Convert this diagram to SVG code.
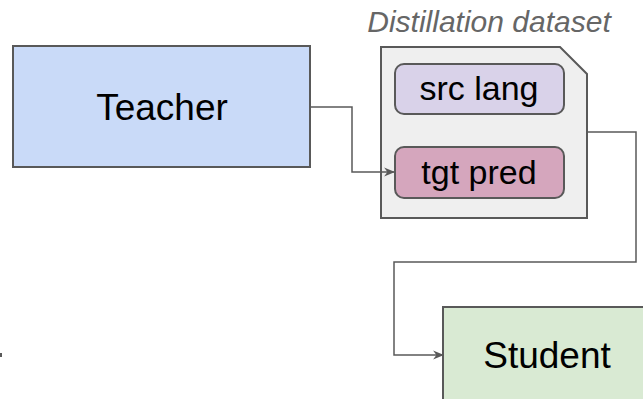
<svg xmlns="http://www.w3.org/2000/svg" width="643" height="399" viewBox="0 0 643 399">
<style>
.box{stroke:#595959;stroke-width:2}
.lbl{font-family:"Liberation Sans",Arial,sans-serif;fill:#000;text-anchor:middle}
.con{fill:none;stroke:#595959;stroke-width:1.5}
</style>
<defs>
<marker id="arr" viewBox="0 0 10 10" refX="9" refY="5" markerWidth="11" markerHeight="11" markerUnits="userSpaceOnUse" orient="auto">
<path d="M0,1 L10,5 L0,9 L3,5 Z" fill="#595959"/>
</marker>
</defs>
<rect width="643" height="399" fill="#fff"/>
<g id="teacher">
<rect class="box" x="13" y="46" width="297" height="121" fill="#c9daf8"/>
<text class="lbl" x="162" y="120" font-size="37">Teacher</text>
</g>
<g id="dataset">
<text x="489" y="32" font-family="'Liberation Sans',Arial,sans-serif" font-size="30" font-style="italic" fill="#666666" text-anchor="middle">Distillation dataset</text>
<path class="box" d="M381,47 H560 L587,74 V218 H381 Z" fill="#efefef"/>
</g>
<g id="src">
<rect class="box" x="395" y="64" width="169" height="50" rx="9" fill="#d9d2e9"/>
<text class="lbl" x="479" y="100" font-size="34">src lang</text>
</g>
<g id="tgt">
<rect class="box" x="395" y="147" width="169" height="51" rx="9" fill="#d5a6bd"/>
<text class="lbl" x="479" y="184" font-size="34">tgt pred</text>
</g>
<g id="student">
<rect class="box" x="443" y="307" width="210" height="110" fill="#d9ead3"/>
<text class="lbl" x="547" y="368" font-size="37">Student</text>
</g>
<g id="connectors">
<path class="con" d="M310,107 H352 V172 H394" marker-end="url(#arr)"/>
<path class="con" d="M587,132 H636 V262 H394 V355 H443" marker-end="url(#arr)"/>
<rect x="0" y="353" width="2" height="4" fill="#595959"/>
</g>
</svg>
